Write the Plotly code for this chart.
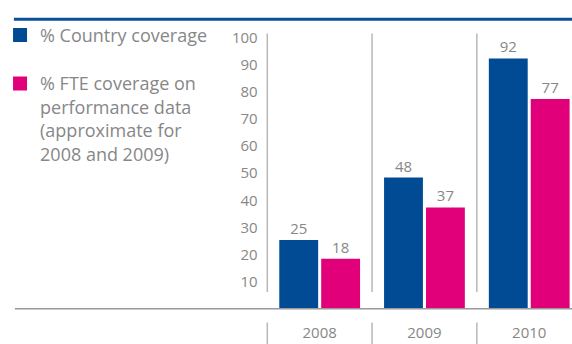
import plotly.graph_objects as go

# Coverage by year
years = ["2008", "2009", "2010"]
country_coverage = [25, 48, 92]
fte_coverage = [18, 37, 77]
series_names = [
    "% Country coverage",
    "% FTE coverage on<br>performance data<br>(approximate for<br>2008 and 2009)",
]
y_tick_values = [10, 20, 30, 40, 50, 60, 70, 80, 90, 100]

# Page and colour settings
W, H = 572, 344
BLUE = "#004b93"
PINK = "#e2007a"
TEXT_GREY = "#878787"
SEP_GREY = "#b8b8b8"
BASE_GREY = "#9a9a9a"
FONT = "Open Sans, Noto Sans, sans-serif"

# Plot-area geometry (pixels)
plot_left = 262
first_boundary = 264.6   # left edge of the first year slot
plot_top = 28
plot_bottom = 308
cat_px = 105.7           # width of one year slot
px_per_unit = 2.757      # vertical scale
sep_top, sep_bottom = 28, 291
tick_sep_top = 322

x_lo = -0.5 - (first_boundary - plot_left) / cat_px
x_hi = x_lo + (W - plot_left) / cat_px
y_hi = (plot_bottom - plot_top) / px_per_unit


def py(pix):
    """Pixel row -> paper fraction."""
    return (H - pix) / H


fig = go.Figure()
for name, vals, col, grp in [
    (series_names[0], country_coverage, BLUE, "a"),
    (series_names[1], fte_coverage, PINK, "b"),
]:
    fig.add_trace(go.Bar(
        x=years, y=vals, name=name, legendgroup=grp,
        marker=dict(color=col, line=dict(color=col, width=2)),
        text=[str(v) for v in vals], textposition="outside",
        textfont=dict(size=15, color=TEXT_GREY, family=FONT),
        cliponaxis=False,
    ))

shapes = []
# Column separators above and below the baseline
for b in [-0.5, 0.5, 1.5]:
    shapes.append(dict(type="line", xref="x", yref="paper", x0=b, x1=b,
                       y0=py(sep_bottom), y1=py(sep_top),
                       line=dict(color=SEP_GREY, width=1.5)))
    shapes.append(dict(type="line", xref="x", yref="paper", x0=b, x1=b,
                       y0=py(H), y1=py(tick_sep_top),
                       line=dict(color=SEP_GREY, width=1.5)))
# Baseline
shapes.append(dict(type="line", xref="paper", yref="paper",
                   x0=10 / W, x1=1, y0=py(plot_bottom), y1=py(plot_bottom),
                   line=dict(color=BASE_GREY, width=1.5)))
# Heading rule
shapes.append(dict(type="line", xref="paper", yref="paper",
                   x0=9 / W, x1=1, y0=py(13.5), y1=py(13.5),
                   line=dict(color="#0a4f9c", width=3)))

fig.update_layout(
    width=W, height=H,
    margin=dict(l=0, r=0, t=0, b=0),
    paper_bgcolor="white", plot_bgcolor="white",
    font=dict(family=FONT, color=TEXT_GREY),
    barmode="group", bargap=0.2, bargroupgap=0.12,
    shapes=shapes,
    showlegend=True,
    legend=dict(
        x=-5 / W, y=py(11), xanchor="left", yanchor="top",
        font=dict(size=18, color=TEXT_GREY, family=FONT),
        valign="top", traceorder="grouped", tracegroupgap=22,
        bgcolor="rgba(0,0,0,0)",
    ),
    xaxis=dict(
        domain=[plot_left / W, 1], range=[x_lo, x_hi],
        showline=False, showgrid=False, zeroline=False, ticks="",
        tickfont=dict(size=15, color=TEXT_GREY, family=FONT),
        ticklabelstandoff=13, fixedrange=True,
    ),
    yaxis=dict(
        domain=[py(plot_bottom), py(plot_top)], range=[0, y_hi],
        tickmode="array", tickvals=y_tick_values,
        showline=False, showgrid=False, zeroline=False, ticks="",
        tickfont=dict(size=15, color=TEXT_GREY, family=FONT),
        ticklabelstandoff=6, fixedrange=True,
    ),
)

fig.write_html("out.html")
